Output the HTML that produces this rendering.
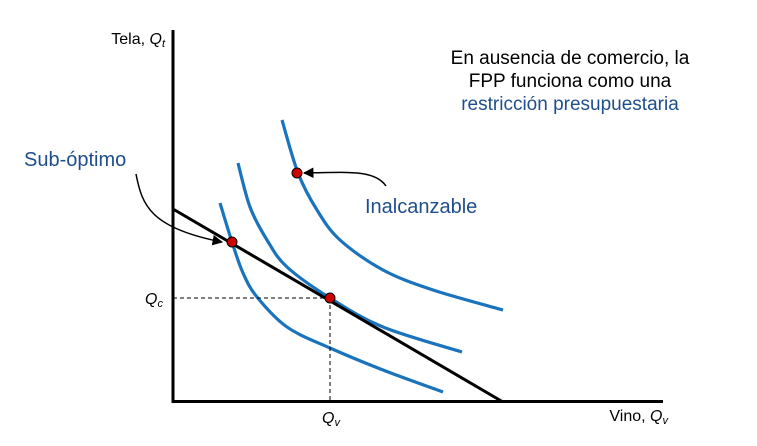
<!DOCTYPE html>
<html><head><meta charset="utf-8"><style>
html,body{margin:0;padding:0;background:#fff;}
svg{display:block;font-family:"Liberation Sans",sans-serif;}
</style></head><body>
<svg id="chart" width="757" height="446" viewBox="0 0 757 446">
<defs><marker id="ah" viewBox="0 0 10 10" refX="9" refY="5" markerWidth="7" markerHeight="7" orient="auto"><path d="M0,0 L10,5 L0,10 z" fill="#000"/></marker></defs>
<g id="curves"></g>
<line x1="173" y1="209" x2="503" y2="402" stroke="#000" stroke-width="3"/>
<line x1="173" y1="298" x2="330" y2="298" stroke="#000" stroke-width="1" stroke-dasharray="4,3"/>
<line x1="330" y1="298" x2="330" y2="402" stroke="#000" stroke-width="1" stroke-dasharray="4,3"/>
<line x1="173" y1="30" x2="173" y2="403" stroke="#000" stroke-width="3"/>
<line x1="172" y1="401.5" x2="663" y2="401.5" stroke="#000" stroke-width="3"/>
<path d="M136,174 C142,205 150,228 222,242" fill="none" stroke="#000" stroke-width="1.5" marker-end="url(#ah)"/>
<path d="M386,186 C375,170 350,172 304,173" fill="none" stroke="#000" stroke-width="1.5" marker-end="url(#ah)"/>
<g id="dots"></g>
<text x="165" y="44" text-anchor="end" font-size="16">Tela, <tspan font-style="italic">Q</tspan><tspan font-style="italic" font-size="11" dy="3">t</tspan></text>
<text x="668" y="421" text-anchor="end" font-size="16">Vino, <tspan font-style="italic">Q</tspan><tspan font-style="italic" font-size="11" dy="3">v</tspan></text>
<text x="145" y="304" font-size="16" font-style="italic">Q<tspan font-size="11" dy="3">c</tspan></text>
<text x="322" y="423" font-size="16" font-style="italic">Q<tspan font-size="11" dy="3">v</tspan></text>
<text x="24" y="166" font-size="20" fill="#1f4e8c">Sub-óptimo</text>
<text x="365" y="213" font-size="20" fill="#1f4e8c">Inalcanzable</text>
<g font-size="19" text-anchor="middle">
<text x="570" y="64">En ausencia de comercio, la</text>
<text x="570" y="87">FPP funciona como una</text>
<text x="570" y="110" fill="#1f4e8c">restricción presupuestaria</text>
</g>
</svg>
<script>
const curve1 = [[220,203],[232,242],[243,273],[257,297],[287,327],[330,348],[383,370],[443,392]];
const curve2 = [[238,163],[250,207],[267,240],[287,267],[330,298],[383,327],[462,352]];
const curve3 = [[282,120],[298,173],[317,210],[340,240],[383,270],[433,290],[503,310]];
const dotsX = [232,330,297];
const dotsY = [242,298,173];
const NS="http://www.w3.org/2000/svg";
function crPath(p){
  let d="M"+p[0][0]+","+p[0][1];
  for(let i=0;i<p.length-1;i++){
    const p0=p[i-1]||p[i],p1=p[i],p2=p[i+1],p3=p[i+2]||p[i+1];
    const c1=[p1[0]+(p2[0]-p0[0])/6,p1[1]+(p2[1]-p0[1])/6];
    const c2=[p2[0]-(p3[0]-p1[0])/6,p2[1]-(p3[1]-p1[1])/6];
    d+=" C"+c1+" "+c2+" "+p2;
  }
  return d;
}
const g=document.getElementById('curves');
[curve1,curve2,curve3].forEach((c,i)=>{
  const el=document.createElementNS(NS,'path');
  el.setAttribute('d',crPath(c));
  el.setAttribute('fill','none');el.setAttribute('stroke','#1a73bd');el.setAttribute('stroke-width','3.2');
  
  
  g.appendChild(el);
});
const dg=document.getElementById('dots');
dotsX.forEach((x,i)=>{
  const el=document.createElementNS(NS,'circle');
  el.setAttribute('cx',x);el.setAttribute('cy',dotsY[i]);el.setAttribute('r','5');
  el.setAttribute('fill','#cc0000');el.setAttribute('stroke','#000');el.setAttribute('stroke-width','1');
  
  
  dg.appendChild(el);
});
</script>
</body></html>
